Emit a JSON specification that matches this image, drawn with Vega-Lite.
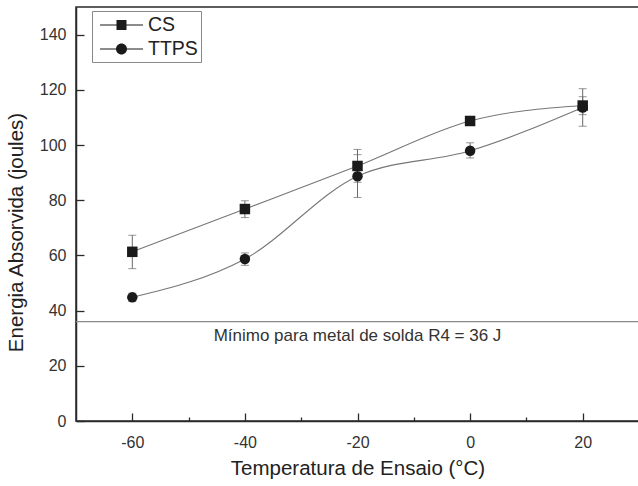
{
  "$schema": "https://vega.github.io/schema/vega-lite/v6.json",
  "width": 563,
  "height": 414,
  "autosize": {"type": "none"},
  "padding": {"left": 76, "top": 7, "right": 0, "bottom": 65},
  "config": {
    "font": "Liberation Sans",
    "view": {"stroke": "#2a2a2a", "strokeWidth": 1.5},
    "axis": {
      "domainColor": "#2a2a2a",
      "domainWidth": 1.5,
      "tickColor": "#2a2a2a",
      "tickWidth": 1.3,
      "grid": false,
      "labelFontSize": 16,
      "labelColor": "#333333",
      "titleFontSize": 20.5,
      "titleFontWeight": "normal",
      "titleColor": "#222222"
    }
  },
  "resolve": {"scale": {"shape": "independent"}},
  "datasets": {
    "pts": [
      {"serie": "CS", "temp": -60, "energia": 61.3, "min": 55.2, "max": 67.3},
      {"serie": "CS", "temp": -40, "energia": 76.8, "min": 73.7, "max": 79.8},
      {"serie": "CS", "temp": -20, "energia": 92.4, "min": 86.5, "max": 98.4},
      {"serie": "CS", "temp": 0, "energia": 108.7, "min": 107.7, "max": 109.7},
      {"serie": "CS", "temp": 20, "energia": 114.3, "min": 111.0, "max": 117.5},
      {"serie": "TTPS", "temp": -60, "energia": 44.8, "min": 43.3, "max": 46.3},
      {"serie": "TTPS", "temp": -40, "energia": 58.7, "min": 56.4, "max": 60.9},
      {"serie": "TTPS", "temp": -20, "energia": 88.7, "min": 81.0, "max": 96.5},
      {"serie": "TTPS", "temp": 0, "energia": 97.9, "min": 95.3, "max": 100.8},
      {"serie": "TTPS", "temp": 20, "energia": 113.6, "min": 106.8, "max": 120.4}
    ],
    "lim": [{"limite": 36, "rotulo": "Mínimo para metal de solda R4 = 36 J"}]
  },
  "layer": [
    {
      "data": {"name": "lim"},
      "mark": {"type": "rule", "color": "#8a8a8a", "strokeWidth": 1.2},
      "encoding": {"y": {"field": "limite", "type": "quantitative", "title": "Energia Absorvida (joules)"}}
    },
    {
      "data": {"name": "lim"},
      "mark": {"type": "text", "fontSize": 17, "color": "#333333", "dy": 14, "baseline": "middle"},
      "encoding": {
        "text": {"field": "rotulo"},
        "x": {"datum": -20, "type": "quantitative", "title": "Temperatura de Ensaio (°C)"},
        "y": {"field": "limite", "type": "quantitative", "title": "Energia Absorvida (joules)"}
      }
    },
    {
      "data": {"name": "pts"},
      "mark": {"type": "errorbar", "color": "#6a6a6a", "ticks": {"size": 8, "thickness": 1}, "thickness": 1},
      "encoding": {
        "x": {"field": "temp", "type": "quantitative", "title": "Temperatura de Ensaio (°C)"},
        "y": {"field": "min", "type": "quantitative", "title": "Energia Absorvida (joules)"},
        "y2": {"field": "max"},
        "detail": {"field": "serie"}
      }
    },
    {
      "data": {"name": "pts"},
      "mark": {"type": "line", "interpolate": "monotone", "color": "#777777", "strokeWidth": 1.1},
      "encoding": {
        "x": {"field": "temp", "type": "quantitative", "title": "Temperatura de Ensaio (°C)"},
        "y": {"field": "energia", "type": "quantitative", "title": "Energia Absorvida (joules)"},
        "detail": {"field": "serie"}
      }
    },
    {
      "data": {"name": "pts"},
      "mark": {"type": "point", "filled": true, "opacity": 1, "color": "#1a1a1a", "size": 110},
      "encoding": {
        "x": {
          "field": "temp",
          "type": "quantitative",
          "title": "Temperatura de Ensaio (°C)",
          "scale": {"domain": [-70, 30], "nice": false, "zero": false},
          "axis": {
            "values": [-60, -50, -40, -30, -20, -10, 0, 10, 20],
            "labelExpr": "datum.value % 20 === 0 ? '' + datum.value : ''",
            "tickSize": {"condition": {"test": "datum.value % 20 === 0", "value": -8}, "value": -4},
            "labelPadding": 21,
            "titlePadding": 8
          }
        },
        "y": {
          "field": "energia",
          "type": "quantitative",
          "title": "Energia Absorvida (joules)",
          "scale": {"domain": [0, 150], "nice": false},
          "axis": {
            "values": [0, 10, 20, 30, 40, 50, 60, 70, 80, 90, 100, 110, 120, 130, 140],
            "labelExpr": "datum.value % 20 === 0 ? '' + datum.value : ''",
            "tickSize": {"condition": {"test": "datum.value % 20 === 0", "value": -8}, "value": -4},
            "labelPadding": 18,
            "titleX": -60,
            "titleY": 225,
            "titleBaseline": "middle",
            "titleAlign": "center"
          }
        },
        "shape": {
          "field": "serie",
          "type": "nominal",
          "scale": {"domain": ["CS", "TTPS"], "range": ["square", "circle"]},
          "legend": null
        }
      }
    },
    {
      "data": {"name": "pts"},
      "transform": [{"filter": "false"}],
      "mark": {"type": "point", "filled": true, "opacity": 1, "color": "#1a1a1a"},
      "encoding": {
        "x": {"field": "temp", "type": "quantitative", "title": "Temperatura de Ensaio (°C)"},
        "y": {"field": "energia", "type": "quantitative", "title": "Energia Absorvida (joules)"},
        "shape": {
          "field": "serie",
          "type": "nominal",
          "scale": {
            "domain": ["CS", "TTPS"],
            "range": [
              "M-0.545,-0.05H3.364V0.05H-0.545ZM0.954,-0.455H1.864V0.455H0.954Z",
              "M-0.545,-0.05H3.364V0.05H-0.545ZM1.909,0A0.5,0.5,0,1,1,0.909,0A0.5,0.5,0,1,1,1.909,0Z"
            ]
          },
          "legend": {
            "title": null,
            "orient": "none",
            "legendX": 16,
            "legendY": 4,
            "strokeColor": "#888888",
            "padding": 3,
            "labelFontSize": 19.5,
            "labelColor": "#222222",
            "symbolSize": 484,
            "symbolFillColor": "#1a1a1a",
            "symbolStrokeWidth": 0,
            "rowPadding": 3,
            "labelOffset": 31
          }
        }
      }
    }
  ]
}
